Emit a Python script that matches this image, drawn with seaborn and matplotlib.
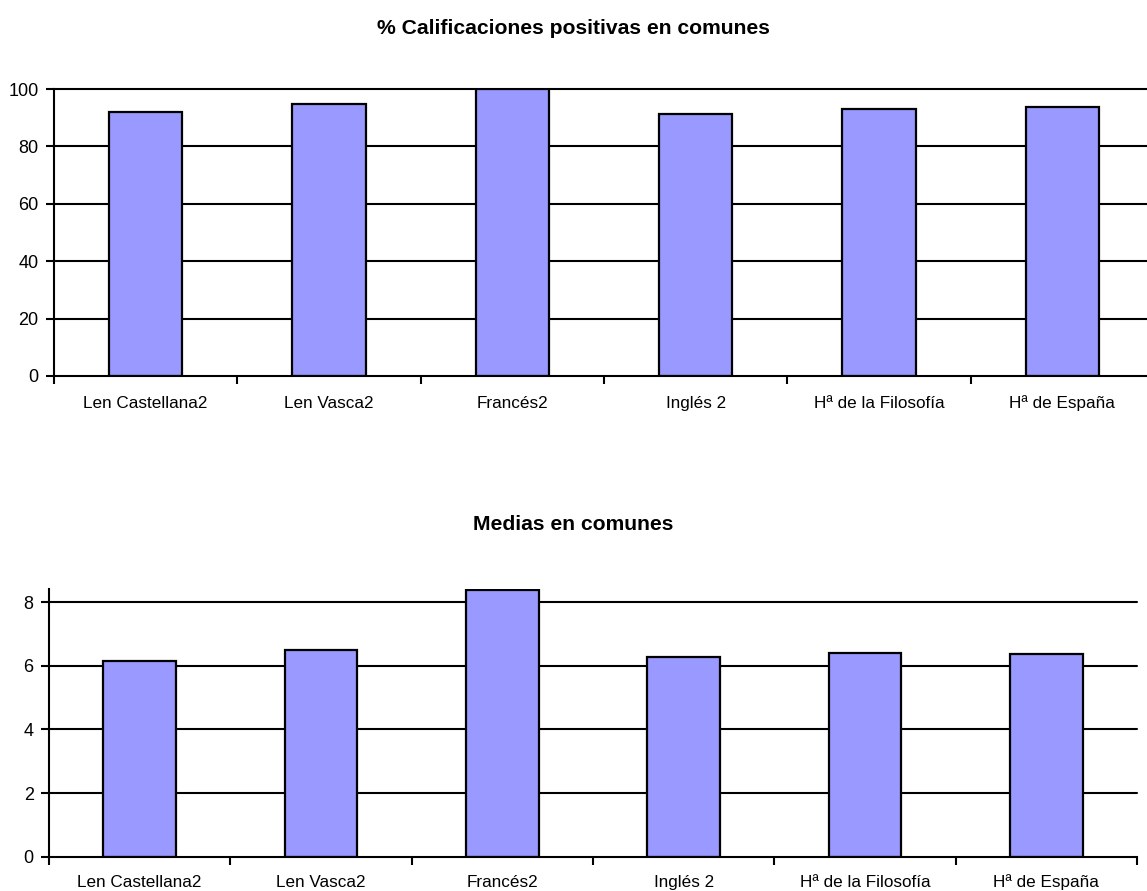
import numpy as np
import pandas as pd
import matplotlib
matplotlib.use("Agg")
import matplotlib.pyplot as plt
import seaborn as sns

# ---- data ----
asignaturas = ["Len Castellana2", "Len Vasca2", "Francés2", "Inglés 2",
               "Hª de la Filosofía", "Hª de España"]
pct_positivas = [92.1, 94.9, 100.0, 91.3, 92.9, 93.7]
medias = [6.15, 6.48, 8.38, 6.27, 6.39, 6.37]

sns.set_style("white")
plt.rcParams["font.family"] = ["Liberation Sans", "DejaVu Sans"]
plt.rcParams["text.color"] = "black"
plt.rcParams["xtick.color"] = "black"
plt.rcParams["ytick.color"] = "black"

BAR_COLOR = "#9999ff"

fig = plt.figure(figsize=(11.47, 8.91), dpi=100)
ax1 = fig.add_axes([54 / 1147, (891 - 376) / 891, (1154 - 54) / 1147, (376 - 89) / 891])
ax2 = fig.add_axes([49 / 1147, (891 - 856.7) / 891, (1137 - 49) / 1147, (856.7 - 589.3) / 891])


def style_axis(ax, values, ylim, yticks, label_pad):
    df = pd.DataFrame({"asignatura": asignaturas, "valor": values})
    sns.barplot(data=df, x="asignatura", y="valor", ax=ax, color=BAR_COLOR,
                width=0.4, edgecolor="black", linewidth=1.6, saturation=1, zorder=3)
    ax.set_xlim(-0.5, len(asignaturas) - 0.5)
    ax.set_ylim(*ylim)
    ax.set_yticks(yticks)
    ax.set_yticklabels([str(t) for t in yticks], fontsize=13)
    # horizontal grid lines behind the bars
    for t in yticks:
        if t > 0:
            ax.axhline(t, color="black", lw=1.5, zorder=1, clip_on=False)
    # ticks at category boundaries, labels at centres
    ax.set_xticks(np.arange(-0.5, len(asignaturas), 1))
    ax.set_xticklabels([""] * (len(asignaturas) + 1))
    ax.set_xticks(np.arange(len(asignaturas)), minor=True)
    ax.set_xticklabels(asignaturas, minor=True, fontsize=12.3)
    for lbl in ax.get_xticklabels(minor=True):
        lbl.set_verticalalignment("baseline")
    ax.tick_params(axis="x", which="major", bottom=True, direction="out",
                   length=6, width=1.5, color="black")
    ax.tick_params(axis="x", which="minor", bottom=True, length=0, pad=label_pad)
    ax.tick_params(axis="y", left=True, direction="out", length=6, width=1.5,
                   color="black", pad=5)
    ax.set_xlabel("")
    ax.set_ylabel("")
    for side in ["top", "right"]:
        ax.spines[side].set_visible(False)
    for side in ["left", "bottom"]:
        ax.spines[side].set_color("black")
        ax.spines[side].set_linewidth(1.5)
        ax.spines[side].set_zorder(4)


style_axis(ax1, pct_positivas, (0, 100), [0, 20, 40, 60, 80, 100], 23)
style_axis(ax2, medias, (0, 8.4), [0, 2, 4, 6, 8], 21.6)

fig.text(0.5, 1 - 28 / 891, "% Calificaciones positivas en comunes", ha="center", va="center",
         fontsize=15.2, fontweight="bold")
fig.text(0.5, 1 - 525 / 891, "Medias en comunes", ha="center", va="center",
         fontsize=15.2, fontweight="bold")

fig.savefig("out.png", dpi=100, facecolor="white")
